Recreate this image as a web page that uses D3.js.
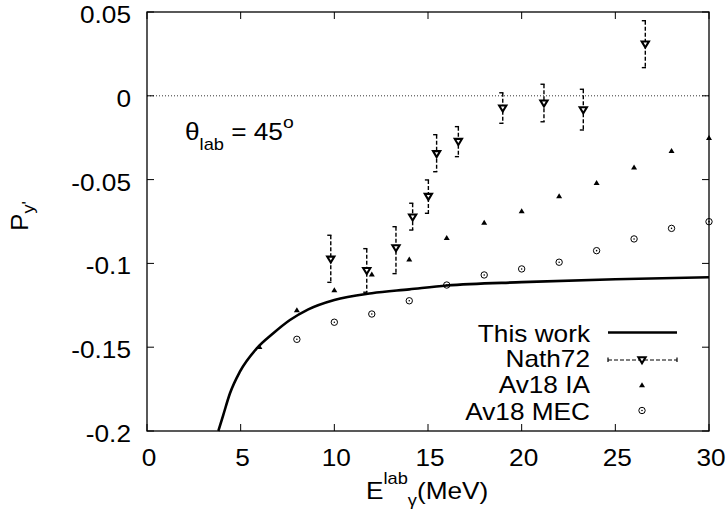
<!DOCTYPE html>
<html>
<head>
<meta charset="utf-8">
<script src="https://cdn.jsdelivr.net/npm/d3@7"></script>
<style>
  body { margin: 0; background: #fff; }
  svg { display: block; }
  text { font-family: "Liberation Sans", Arial, sans-serif; fill: #000; }
</style>
</head>
<body>
<svg id="chart" width="727" height="516"></svg>
<script>
// "This work" curve
var workE = [3.81, 4.07, 4.43, 4.96, 5.86, 6.74, 7.63, 8.61, 10, 12, 14, 16, 20, 25, 30];
var workP = [-0.2, -0.1905, -0.1775, -0.1646, -0.1507, -0.1417, -0.1338, -0.1274, -0.1218, -0.1178, -0.1155, -0.1132, -0.1112, -0.1095, -0.1083];

// Nath72 data with error bars
var nathE = [9.81, 11.73, 13.29, 14.18, 15.02, 15.46, 16.62, 18.99, 21.19, 23.29, 26.6];
var nathP = [-0.0976, -0.1044, -0.0908, -0.0725, -0.0602, -0.0347, -0.0274, -0.0075, -0.0045, -0.0085, 0.0307];
var nathHi = [-0.0832, -0.0912, -0.0781, -0.0641, -0.0502, -0.0232, -0.0184, 0.0018, 0.0069, 0.0039, 0.0448];
var nathLo = [-0.1113, -0.1172, -0.1061, -0.0801, -0.0701, -0.0453, -0.0363, -0.0164, -0.0155, -0.0204, 0.0168];

// Av18 IA
var iaE = [6, 8, 10, 12, 14, 16, 18, 20, 22, 24, 26, 28, 30];
var iaP = [-0.1497, -0.1278, -0.1159, -0.1065, -0.0976, -0.0847, -0.0757, -0.0687, -0.0598, -0.0519, -0.0427, -0.0328, -0.025];

// Av18 MEC
var mecE = [8, 10, 12, 14, 16, 18, 20, 22, 24, 26, 28, 30];
var mecP = [-0.1453, -0.1351, -0.1302, -0.1223, -0.1129, -0.1069, -0.1033, -0.0993, -0.0924, -0.0854, -0.0791, -0.0751];

var xTicks = [0, 5, 10, 15, 20, 25, 30];
var yTicks = [0.05, 0, -0.05, -0.1, -0.15, -0.2];
var yTickLabels = ["0.05", "0", "-0.05", "-0.1", "-0.15", "-0.2"];

var svg = d3.select("#chart"),
  margin = { left: 147, top: 12, right: 18, bottom: 85 },
  width = +svg.attr("width") - margin.left - margin.right,
  height = +svg.attr("height") - margin.top - margin.bottom;

var FS = 23, SX = 1.14;

var x = d3.scaleLinear().domain([0, 30]).range([margin.left, margin.left + width]);
var y = d3.scaleLinear().domain([-0.2, 0.05]).range([margin.top + height, margin.top]);

// stretched text helper
function label(px, py, anchor) {
  return svg.append("g")
    .attr("transform", "translate(" + px + "," + py + ") scale(" + SX + ",1)")
    .append("text")
    .attr("text-anchor", anchor)
    .style("font-size", FS + "px");
}

// zero line
svg.append("line")
  .attr("x1", x(0)).attr("x2", x(30))
  .attr("y1", y(0)).attr("y2", y(0))
  .attr("stroke", "#000").attr("stroke-width", 0.8)
  .attr("stroke-dasharray", "1,2");

// ticks (inward, mirrored)
var tl = 7;
var tg = svg.append("g").attr("stroke", "#000").attr("stroke-width", 1);
xTicks.forEach(function (t) {
  tg.append("line").attr("x1", x(t)).attr("x2", x(t)).attr("y1", y(-0.2)).attr("y2", y(-0.2) - tl);
  tg.append("line").attr("x1", x(t)).attr("x2", x(t)).attr("y1", y(0.05)).attr("y2", y(0.05) + tl);
});
yTicks.forEach(function (t) {
  tg.append("line").attr("x1", x(0)).attr("x2", x(0) + tl).attr("y1", y(t)).attr("y2", y(t));
  tg.append("line").attr("x1", x(30)).attr("x2", x(30) - tl).attr("y1", y(t)).attr("y2", y(t));
});

// tick labels
xTicks.forEach(function (t) {
  label(x(t) + 2, y(-0.2) + 35, "middle").text(t);
});
yTicks.forEach(function (t, i) {
  label(x(0) - 16, y(t) + 11, "end").text(yTickLabels[i]);
});

// axis titles
var xt = label(366, 499, "start");
xt.append("tspan").text("E");
xt.append("tspan").attr("dy", -15).style("font-size", "16px").text("lab");
xt.append("tspan").attr("dy", 22).style("font-size", "16px").text("\u03b3");
xt.append("tspan").attr("dy", -7).text("(MeV)");

var ytg = svg.append("g").attr("transform", "translate(28,216) rotate(-90) scale(" + SX + ",1)");
var yt = ytg.append("text").attr("text-anchor", "middle").style("font-size", FS + "px");
yt.append("tspan").text("P");
yt.append("tspan").attr("dy", 6).style("font-size", "16px").text("y'");

// theta label
var th = label(185, 139.5, "start");
th.append("tspan").text("\u03b8");
th.append("tspan").attr("dy", 10).style("font-size", "16px").text("lab");
th.append("tspan").attr("dy", -10).text(" = 45");
th.append("tspan").attr("dy", -12).style("font-size", "17px").text("o");

// This work curve
var line = d3.line()
  .x(function (d) { return x(d[0]); })
  .y(function (d) { return y(d[1]); })
  .curve(d3.curveMonotoneX);
svg.append("path")
  .datum(d3.zip(workE, workP))
  .attr("d", line)
  .attr("fill", "none")
  .attr("stroke", "#000")
  .attr("stroke-width", 2.6);

// Nath72 error bars
var nath = nathE.map(function (e, i) {
  return { e: e, p: nathP[i], hi: nathHi[i], lo: nathLo[i] };
});
var eb = svg.append("g").attr("stroke", "#000").attr("stroke-width", 1.4).attr("fill", "none");
nath.forEach(function (d) {
  eb.append("line").attr("x1", x(d.e)).attr("x2", x(d.e))
    .attr("y1", y(d.hi)).attr("y2", y(d.lo)).attr("stroke-dasharray", "4,2");
  eb.append("line").attr("x1", x(d.e) - 3.5).attr("x2", x(d.e) + 0.7).attr("y1", y(d.hi)).attr("y2", y(d.hi));
  eb.append("line").attr("x1", x(d.e) - 3.5).attr("x2", x(d.e) + 0.7).attr("y1", y(d.lo)).attr("y2", y(d.lo));
});

function triDown(cx, cy) {
  return "M" + (cx - 3.6) + "," + (cy - 2.8) + "L" + (cx + 3.6) + "," + (cy - 2.8) + "L" + cx + "," + (cy + 3.2) + "Z";
}
function triUp(cx, cy) {
  return "M" + (cx - 3) + "," + (cy + 2.2) + "L" + (cx + 3) + "," + (cy + 2.2) + "L" + cx + "," + (cy - 2.8) + "Z";
}

svg.append("g").selectAll("path")
  .data(nath)
  .enter()
  .append("path")
  .attr("d", function (d) { return triDown(x(d.e), y(d.p)); })
  .attr("fill", "#fff").attr("stroke", "#000").attr("stroke-width", 2.1);

// Av18 IA
svg.append("g").selectAll("path")
  .data(d3.zip(iaE, iaP))
  .enter()
  .append("path")
  .attr("d", function (d) { return triUp(x(d[0]), y(d[1])); })
  .attr("fill", "#000");

// Av18 MEC
var mec = svg.append("g").selectAll("g")
  .data(d3.zip(mecE, mecP))
  .enter()
  .append("g");
mec.append("circle")
  .attr("cx", function (d) { return x(d[0]); })
  .attr("cy", function (d) { return y(d[1]); })
  .attr("r", 3.2).attr("fill", "none").attr("stroke", "#000").attr("stroke-width", 1);
mec.append("circle")
  .attr("cx", function (d) { return x(d[0]); })
  .attr("cy", function (d) { return y(d[1]); })
  .attr("r", 0.8).attr("fill", "#000");

// frame
svg.append("rect")
  .attr("x", x(0)).attr("y", y(0.05))
  .attr("width", width).attr("height", height)
  .attr("fill", "none").attr("stroke", "#000").attr("stroke-width", 1.3);

// legend
var lx = 590, sx1 = 608, sx2 = 677, sm = 642;
label(lx, 341.5, "end").text("This work");
label(lx, 367, "end").text("Nath72");
label(lx, 393, "end").text("Av18 IA");
label(lx, 419.5, "end").text("Av18 MEC");

svg.append("line").attr("x1", sx1).attr("x2", sx2).attr("y1", 332.5).attr("y2", 332.5)
  .attr("stroke", "#000").attr("stroke-width", 2.6);
var lg = svg.append("g").attr("stroke", "#000").attr("stroke-width", 1.2);
lg.append("line").attr("x1", sx1).attr("x2", sx2).attr("y1", 360).attr("y2", 360).attr("stroke-dasharray", "4,2");
lg.append("line").attr("x1", sx1).attr("x2", sx1).attr("y1", 357.5).attr("y2", 362);
lg.append("line").attr("x1", sx2).attr("x2", sx2).attr("y1", 357.5).attr("y2", 362);
svg.append("path").attr("d", triDown(sm, 360)).attr("fill", "#fff").attr("stroke", "#000").attr("stroke-width", 2.1);
svg.append("path").attr("d", triUp(sm, 385)).attr("fill", "#000");
svg.append("circle").attr("cx", sm).attr("cy", 410.5).attr("r", 3.2).attr("fill", "none").attr("stroke", "#000");
svg.append("circle").attr("cx", sm).attr("cy", 410.5).attr("r", 0.8).attr("fill", "#000");
</script>
</body>
</html>
